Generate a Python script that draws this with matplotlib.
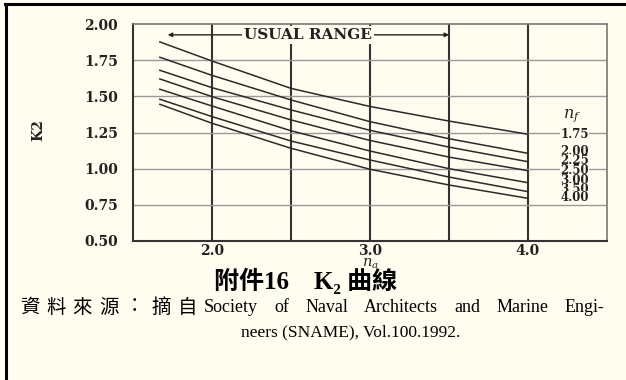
import matplotlib.pyplot as plt
from matplotlib.lines import Line2D

plt.rcParams['mathtext.fontset'] = 'dejavuserif'

# data
n_a = [1.67, 2.0, 2.5, 3.0, 3.5, 4.0]
nf_labels = ['1.75', '2.00', '2.25', '2.50', '3.00', '3.50', '4.00']
k2_curves = [
    [1.876, 1.744, 1.555, 1.430, 1.329, 1.238],
    [1.770, 1.645, 1.475, 1.325, 1.207, 1.106],
    [1.680, 1.560, 1.406, 1.265, 1.149, 1.048],
    [1.620, 1.498, 1.337, 1.195, 1.080, 0.986],
    [1.549, 1.433, 1.262, 1.122, 1.000, 0.903],
    [1.480, 1.360, 1.191, 1.060, 0.942, 0.841],
    [1.445, 1.314, 1.141, 0.996, 0.887, 0.795],
]
label_k2 = [1.233, 1.117, 1.053, 0.984, 0.915, 0.858, 0.798]
xticks = [2.0, 3.0, 4.0]
yticks = [0.50, 0.75, 1.00, 1.25, 1.50, 1.75, 2.00]
usual_range = (1.72, 3.5)

title = '附件16　K₂ 曲線'
caption1_cjk = '資料來源：摘自'
caption1_latin = 'Society of Naval Architects and Marine Engi-'
caption2 = 'neers (SNAME), Vol.100.1992.'

bg = '#FFFDF0'
ink = '#222222'
serif = 'DejaVu Serif'
cjk = ['Liberation Serif', 'Noto Sans CJK TC', 'DejaVu Sans']
W, H = 626, 380

fig = plt.figure(figsize=(W / 100, H / 100), dpi=100, facecolor=bg)
ax = fig.add_axes([133 / W, 1 - 241 / H, 474 / W, 217 / H])
ax.set_facecolor(bg)
ax.set_xlim(1.5, 4.5)
ax.set_ylim(0.5, 2.0)

# grid
for x in [2.0, 2.5, 3.0, 3.5, 4.0]:
    ax.axvline(x, color='#333333', lw=1.5, zorder=1)
for y in [0.75, 1.0, 1.25, 1.5, 1.75]:
    ax.axhline(y, color='#9a9a9a', lw=1.0, zorder=1)

for k in k2_curves:
    ax.plot(n_a, k, color='#2a2a2a', lw=1.1, zorder=2)

for lab, y in zip(nf_labels, label_k2):
    ax.text(4.295, y, lab, ha='center', va='center', fontsize=8.5, family=serif,
            weight='bold', color=ink, zorder=3,
            bbox=dict(facecolor=bg, edgecolor='none', pad=0))
ax.text(4.28, 1.37, r'$n_f$', ha='center', va='center', fontsize=11.5, color=ink)

# usual range arrow
ax.annotate('', xy=(usual_range[0], 1.925), xytext=(usual_range[1], 1.925),
            arrowprops=dict(arrowstyle='<|-|>', color=ink, lw=1.0,
                            mutation_scale=6, shrinkA=0, shrinkB=0), zorder=3)
ax.text(2.61, 1.925, 'USUAL RANGE', ha='center', va='center', fontsize=11,
        family=serif, weight='bold', color=ink, zorder=4,
        bbox=dict(facecolor=bg, edgecolor='none', pad=1.5))

ax.set_xticks(xticks)
ax.set_xticklabels(['%.1f' % v for v in xticks])
ax.set_yticks(yticks)
ax.set_yticklabels(['%.2f' % v for v in yticks])
ax.tick_params(length=0, labelsize=10, colors=ink)
ax.tick_params(axis='y', pad=11)
ax.tick_params(axis='x', pad=2)
for lbl in ax.get_xticklabels() + ax.get_yticklabels():
    lbl.set_family(serif)
    lbl.set_weight('bold')
for s in ['left', 'bottom']:
    ax.spines[s].set_color('#333333')
    ax.spines[s].set_linewidth(1.5)
for s in ['top', 'right']:
    ax.spines[s].set_color('#777777')
    ax.spines[s].set_linewidth(1.2)

ax.set_xlabel(r'$n_a$', fontsize=10.5, labelpad=-1, color=ink)
fig.text(38 / W, 1 - 130 / H, 'K2', rotation=90, ha='center', va='center',
         fontsize=10, family=serif, weight='bold', color=ink)

# frame
fig.add_artist(Line2D([5 / W, 1], [1 - 4 / H, 1 - 4 / H], color='black', lw=2.2))
fig.add_artist(Line2D([6 / W, 6 / W], [0, 1 - 4 / H], color='black', lw=2.2))

fig.text(306 / W, 1 - 281 / H, title, ha='center', va='center',
         fontsize=18, family=cjk, weight='bold', color='black')

# first caption line uses distributed spacing between x=20 and x=604
renderer = fig.canvas.get_renderer()
y1 = 1 - 308 / H
step = 184 / len(caption1_cjk)
for i, ch in enumerate(caption1_cjk):
    fig.text((20 + i * step) / W, y1, ch, ha='left', va='center', fontsize=14,
             family=cjk, color='black')
words = caption1_latin.split(' ')
pieces = [fig.text(0, y1, w, ha='left', va='center', fontsize=13,
                   family=cjk, color='black') for w in words]
widths = [p.get_window_extent(renderer).width for p in pieces]
gap = (604 - 204 - sum(widths)) / (len(words) - 1)
xpos = 204
for p, wd in zip(pieces, widths):
    p.set_x(xpos / W)
    xpos += wd + gap
fig.text(241 / W, 1 - 332 / H, caption2, ha='left', va='center', fontsize=12.5,
         family=cjk, color='black')

fig.savefig('out.png', dpi=100, facecolor=bg)
